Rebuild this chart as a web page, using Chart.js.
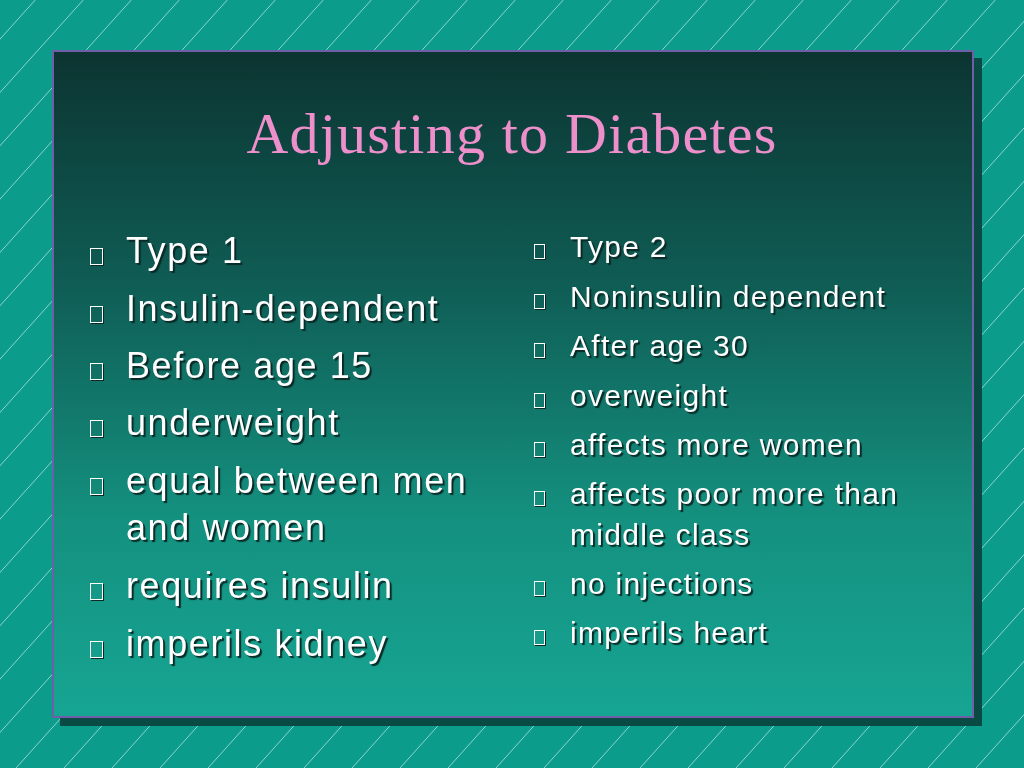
<!DOCTYPE html>
<html><head><meta charset="utf-8">
<script src="https://cdn.jsdelivr.net/npm/chart.js@4"></script>
<style>
html,body{margin:0;padding:0;width:1024px;height:768px;overflow:hidden;background:#0b9c8c;}
#bg{position:absolute;left:0;top:0;width:1024px;height:768px;}
#panel{position:absolute;left:52px;top:50px;width:918px;height:664px;border:2px solid #6f5fa8;
 background:linear-gradient(to bottom,#0c3431 0%,#0f5d55 35%,#14907f 70%,#17a593 100%);
 box-shadow:8px 8px 0 #0a4a44;}
#title{position:absolute;left:0;width:1024px;top:100px;text-align:center;font-family:"Liberation Serif","DejaVu Serif",serif;font-size:58px;letter-spacing:1.2px;color:#ec8fcb;}
.it{position:absolute;font-family:"Liberation Sans",Arial,sans-serif;color:#fff;text-shadow:2px 2px 1px #0a2a27;line-height:1;white-space:nowrap;}
.bx{position:absolute;border:1.5px solid #fff;box-shadow:1px 1px 0 #0a2a27;}
</style></head><body>
<canvas id="bg" width="1024" height="768"></canvas>
<div id="panel"></div>
<div id="title">Adjusting to Diabetes</div>
<div id="items"></div>
<script>
const leftItems=[["Type 1",253],["Insulin-dependent",311],["Before age 15",368],["underweight",425],["equal between men",483],["and women",530,true],["requires insulin",588],["imperils kidney",646]];
const rightItems=[["Type 2",248],["Noninsulin dependent",298],["After age 30",347],["overweight",397],["affects more women",446],["affects poor more than",495],["middle class",536,true],["no injections",585],["imperils heart",634]];
const hatch={id:'hatch',beforeDraw(c){const g=c.ctx;g.save();g.fillStyle='#0b9c8c';g.fillRect(0,0,1024,768);
 g.strokeStyle='rgba(200,235,230,0.7)';g.lineWidth=1;
 for(let x=-800;x<1100;x+=48){g.beginPath();g.moveTo(x,768);g.lineTo(x+720,-32);g.stroke();}
 g.restore();}};
new Chart(document.getElementById('bg'),{type:'scatter',data:{datasets:[{data:[]}]},
 options:{responsive:false,animation:false,plugins:{legend:{display:false},tooltip:{enabled:false}},
 scales:{x:{display:false},y:{display:false}}},plugins:[hatch]});
const box=document.getElementById('items');
function add(list,bx,tx,fs,bs,ls){list.forEach(([t,y,cont])=>{
 const d=document.createElement('div');d.className='it';d.style.left=tx+'px';d.style.top=(y-fs*0.55)+'px';d.style.fontSize=fs+'px';d.style.letterSpacing=ls+'px';d.textContent=t;box.appendChild(d);
 if(!cont){const b=document.createElement('div');b.className='bx';b.style.left=bx+'px';b.style.top=(y-bs/2+2)+'px';b.style.width=(bs*0.7)+'px';b.style.height=bs+'px';box.appendChild(b);}
});}
add(leftItems,90,126,36,15,1.6);
add(rightItems,534,570,30,13,1.3);
</script>
</body></html>
